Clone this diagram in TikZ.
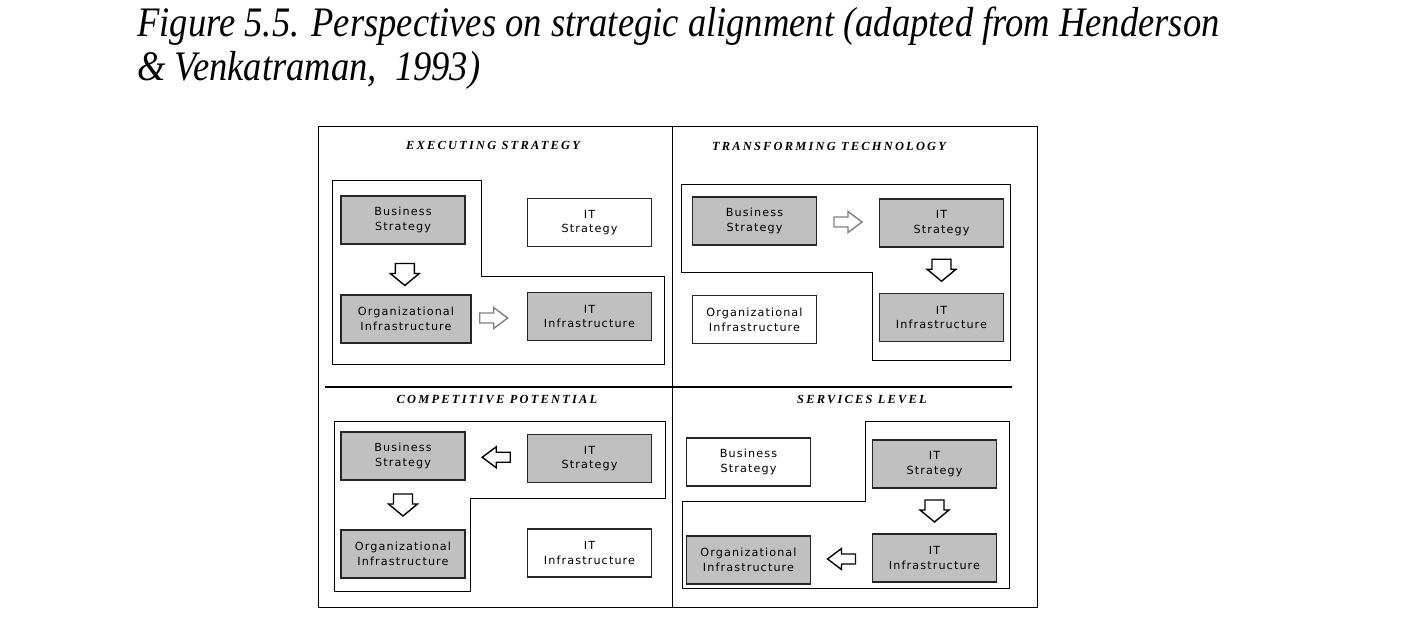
\documentclass[tikz,border=0pt]{standalone}
\usepackage{fontspec}
\setmainfont{Liberation Serif}
\newfontfamily\boxfont[LetterSpace=10]{DejaVu Sans}
\newfontfamily\headfont[LetterSpace=18]{Liberation Serif}
\usetikzlibrary{calc}

\definecolor{boxgray}{RGB}{192,192,192}
\definecolor{arrowgray}{RGB}{128,128,128}

\tikzset{
  unit/.style={draw=black!85, line width=0.7pt, minimum width=62pt, minimum height=24pt,
    align=center, inner sep=0pt, font=\boxfont\fontsize{5.6}{7.4}\selectfont},
  active/.style={unit, fill=boxgray},
  idle/.style={unit, fill=white},
  quadtitle/.style={font=\headfont\bfseries\itshape\fontsize{6.2}{7}\selectfont},
  zone/.style={draw, line width=0.5pt},
  captionline/.style={anchor=base west, inner sep=0pt, font=\itshape\fontsize{21}{22}\selectfont},
  rarrow/.pic={\filldraw[fill=white, line width=0.7pt, pic actions]
    (-14,-5) -- (0,-5) -- (0,-10.5) -- (14,0) -- (0,10.5) -- (0,5) -- (-14,5) -- cycle;},
  darrow/.pic={\filldraw[fill=white, line width=0.7pt, pic actions]
    (-9.5,-11) -- (9.5,-11) -- (9.5,-1) -- (14.5,-1) -- (0,11) -- (-14.5,-1) -- (-9.5,-1) -- cycle;}
}

\begin{document}
\begin{tikzpicture}[x=0.5pt, y=-0.5pt]
\useasboundingbox (0,0) rectangle (1415,637);

% caption
\node[captionline] (caption1) at (137,36)
  {\scalebox{0.87}[1]{Figure 5.5. Perspectives on strategic alignment (adapted from Henderson}};
\node[captionline] (caption2) at (137,80)
  {\scalebox{0.87}[1]{\& Venkatraman,\ \ 1993)}};

% frame and dividers
\draw[line width=0.5pt] (318,126) rectangle (1037,607);
\draw[line width=0.5pt] (672,126) -- (672,607);
\draw[line width=1pt] (325,386.5) -- (1012,386.5);

% executing strategy
\node[quadtitle] (h1) at (493,145) {EXECUTING STRATEGY};
\draw[zone] (332,180) -- (481,180) -- (481,276) -- (664,276) -- (664,364) -- (332,364) -- cycle;
\node[active] (bs1) at (403,220) {Business\\Strategy};
\node[idle] (its1) at (589.5,222.5) {IT\\Strategy};
\node[active, minimum width=65pt] (oi1) at (406,319) {Organizational\\Infrastructure};
\node[active] (ii1) at (589.5,316.5) {IT\\Infrastructure};
\pic at ($(bs1.south)!0.6!(oi1.north)$) {darrow};
\pic[draw=arrowgray] at ($(oi1.east)!0.4!(ii1.west)$) {rarrow};

% transforming technology
\node[quadtitle] (h2) at (829,146) {TRANSFORMING TECHNOLOGY};
\draw[zone] (681,184) -- (1010,184) -- (1010,360) -- (872,360) -- (872,272) -- (681,272) -- cycle;
\node[active] (bs2) at (754.5,221) {Business\\Strategy};
\node[active] (its2) at (941.5,223) {IT\\Strategy};
\node[idle] (oi2) at (754.5,319.5) {Organizational\\Infrastructure};
\node[active] (ii2) at (941.5,317.5) {IT\\Infrastructure};
\pic[draw=arrowgray] at ($(bs2.east)!0.5!(its2.west)$) {rarrow};
\pic at ($(its2.south)!0.5!(ii2.north)$) {darrow};

% competitive potential
\node[quadtitle] (h3) at (497,399) {COMPETITIVE POTENTIAL};
\draw[zone] (334,421) -- (665,421) -- (665,498) -- (470,498) -- (470,591) -- (334,591) -- cycle;
\node[active] (bs3) at (403,456) {Business\\Strategy};
\node[active] (its3) at (589.5,458.5) {IT\\Strategy};
\node[active] (oi3) at (403,554) {Organizational\\Infrastructure};
\node[idle] (ii3) at (589.5,553) {IT\\Infrastructure};
\pic[rotate=180] at ($(bs3.east)!0.5!(its3.west)$) {rarrow};
\pic at ($(bs3.south)!0.5!(oi3.north)$) {darrow};

% services level
\node[quadtitle] (h4) at (862,399) {SERVICES LEVEL};
\draw[zone] (865,421) -- (1009,421) -- (1009,588) -- (682,588) -- (682,501) -- (865,501) -- cycle;
\node[idle] (bs4) at (748.5,462) {Business\\Strategy};
\node[active] (its4) at (934.5,464) {IT\\Strategy};
\node[active] (oi4) at (748.5,560) {Organizational\\Infrastructure};
\node[active] (ii4) at (934.5,558) {IT\\Infrastructure};
\pic at ($(its4.south)!0.5!(ii4.north)$) {darrow};
\pic[rotate=180] at ($(oi4.east)!0.5!(ii4.west)$) {rarrow};
\end{tikzpicture}
\end{document}
